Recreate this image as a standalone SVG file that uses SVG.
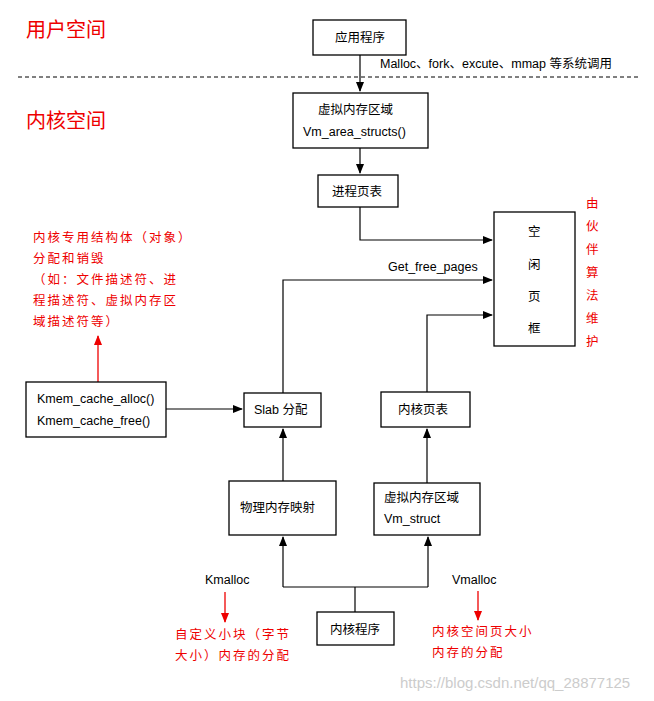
<svg xmlns="http://www.w3.org/2000/svg" width="654" height="701" viewBox="0 0 654 701">
<style>
.b{fill:#fff;stroke:#000;stroke-width:1.3}
.t{font-family:"Liberation Sans","Noto Sans CJK SC",sans-serif;font-size:12.5px;fill:#000}
.r{font-family:"Noto Sans CJK SC",sans-serif;font-size:12.5px;fill:#e00;letter-spacing:2px}
.h{font-family:"Noto Sans CJK SC",sans-serif;font-size:20px;fill:#e00}
.c{fill:none;stroke:#000;stroke-width:1.2}
.rc{fill:none;stroke:#e00;stroke-width:1.3}
</style>
<defs>
<marker id="a" markerWidth="10" markerHeight="8" refX="9" refY="4" orient="auto" markerUnits="userSpaceOnUse"><path d="M0,0L10,4L0,8z" fill="#000"/></marker>
<marker id="ra" markerWidth="10" markerHeight="10" refX="9" refY="4" orient="auto" markerUnits="userSpaceOnUse"><path d="M0,0L10,4L0,8z" fill="#e00"/></marker>
</defs>
<rect width="654" height="701" fill="#fff"/>
<text class="h" x="26" y="37">用户空间</text>
<text class="h" x="26" y="128">内核空间</text>
<line x1="18" y1="77" x2="640" y2="77" stroke="#000" stroke-dasharray="4,3"/>
<text class="t" x="380" y="68">Malloc、fork、excute、mmap 等系统调用</text>
<g id="connectors">
<path class="c" d="M360,55V91" marker-end="url(#a)"/>
<path class="c" d="M360,148V173" marker-end="url(#a)"/>
<path class="c" d="M360,207V240H492" marker-end="url(#a)"/>
<path class="c" d="M283,393V280H492" marker-end="url(#a)"/>
<path class="c" d="M427,392V315H492" marker-end="url(#a)"/>
<path class="c" d="M166,409H242" marker-end="url(#a)"/>
<path class="c" d="M283,481V429" marker-end="url(#a)"/>
<path class="c" d="M427,483V429" marker-end="url(#a)"/>
<path class="c" d="M355,612V587"/>
<path class="c" d="M283,587H428"/>
<path class="c" d="M283,587V537" marker-end="url(#a)"/>
<path class="c" d="M428,587V537" marker-end="url(#a)"/>
<path class="rc" d="M98,382V336" marker-end="url(#ra)"/>
<path class="rc" d="M225,592V622" marker-end="url(#ra)"/>
<path class="rc" d="M478,591V620" marker-end="url(#ra)"/>
</g>
<text class="t" x="388" y="271">Get_free_pages</text>
<g id="app"><rect class="b" x="313" y="20" width="93" height="35"/><text class="t" x="335" y="42">应用程序</text></g>
<g id="vma"><rect class="b" x="293" y="93" width="135" height="55"/><text class="t" x="318" y="114">虚拟内存区域</text><text class="t" x="303" y="136">Vm_area_structs()</text></g>
<g id="ptable"><rect class="b" x="318" y="175" width="80" height="32"/><text class="t" x="332" y="196">进程页表</text></g>
<g id="free"><rect class="b" x="494" y="212" width="81" height="134"/>
<text class="t" x="528" y="236">空</text><text class="t" x="528" y="269">闲</text><text class="t" x="528" y="301">页</text><text class="t" x="528" y="333">框</text></g>
<g id="buddy"><text class="r" x="586" y="208">由</text><text class="r" x="586" y="231">伙</text><text class="r" x="586" y="254">伴</text><text class="r" x="586" y="277">算</text><text class="r" x="586" y="300">法</text><text class="r" x="586" y="323">维</text><text class="r" x="586" y="346">护</text></g>
<g id="note1">
<text class="r" x="33" y="242">内核专用结构体（对象）</text>
<text class="r" x="33" y="263">分配和销毁</text>
<text class="r" x="33" y="284">（如：文件描述符、进</text>
<text class="r" x="33" y="305">程描述符、虚拟内存区</text>
<text class="r" x="33" y="326">域描述符等）</text>
</g>
<g id="kmem"><rect class="b" x="26" y="382" width="140" height="55"/><text class="t" x="37" y="403">Kmem_cache_alloc()</text><text class="t" x="37" y="425">Kmem_cache_free()</text></g>
<g id="slab"><rect class="b" x="244" y="393" width="77" height="34"/><text class="t" x="254" y="414">Slab 分配</text></g>
<g id="kptable"><rect class="b" x="381" y="392" width="89" height="35"/><text class="t" x="398" y="414">内核页表</text></g>
<g id="phys"><rect class="b" x="229" y="481" width="107" height="54"/><text class="t" x="240" y="512">物理内存映射</text></g>
<g id="vms"><rect class="b" x="374" y="483" width="106" height="52"/><text class="t" x="384" y="502">虚拟内存区域</text><text class="t" x="384" y="523">Vm_struct</text></g>
<g id="kprog"><rect class="b" x="317" y="612" width="77" height="33"/><text class="t" x="330" y="634">内核程序</text></g>
<text class="t" x="205" y="584">Kmalloc</text>
<text class="t" x="452" y="584">Vmalloc</text>
<text class="r" x="175" y="639">自定义小块（字节</text>
<text class="r" x="175" y="660">大小）内存的分配</text>
<text class="r" x="432" y="636">内核空间页大小</text>
<text class="r" x="432" y="657">内存的分配</text>
<text x="400" y="688" font-family="Liberation Sans,sans-serif" font-size="15" fill="#ccc">https://blog.csdn.net/qq_28877125</text>
</svg>
